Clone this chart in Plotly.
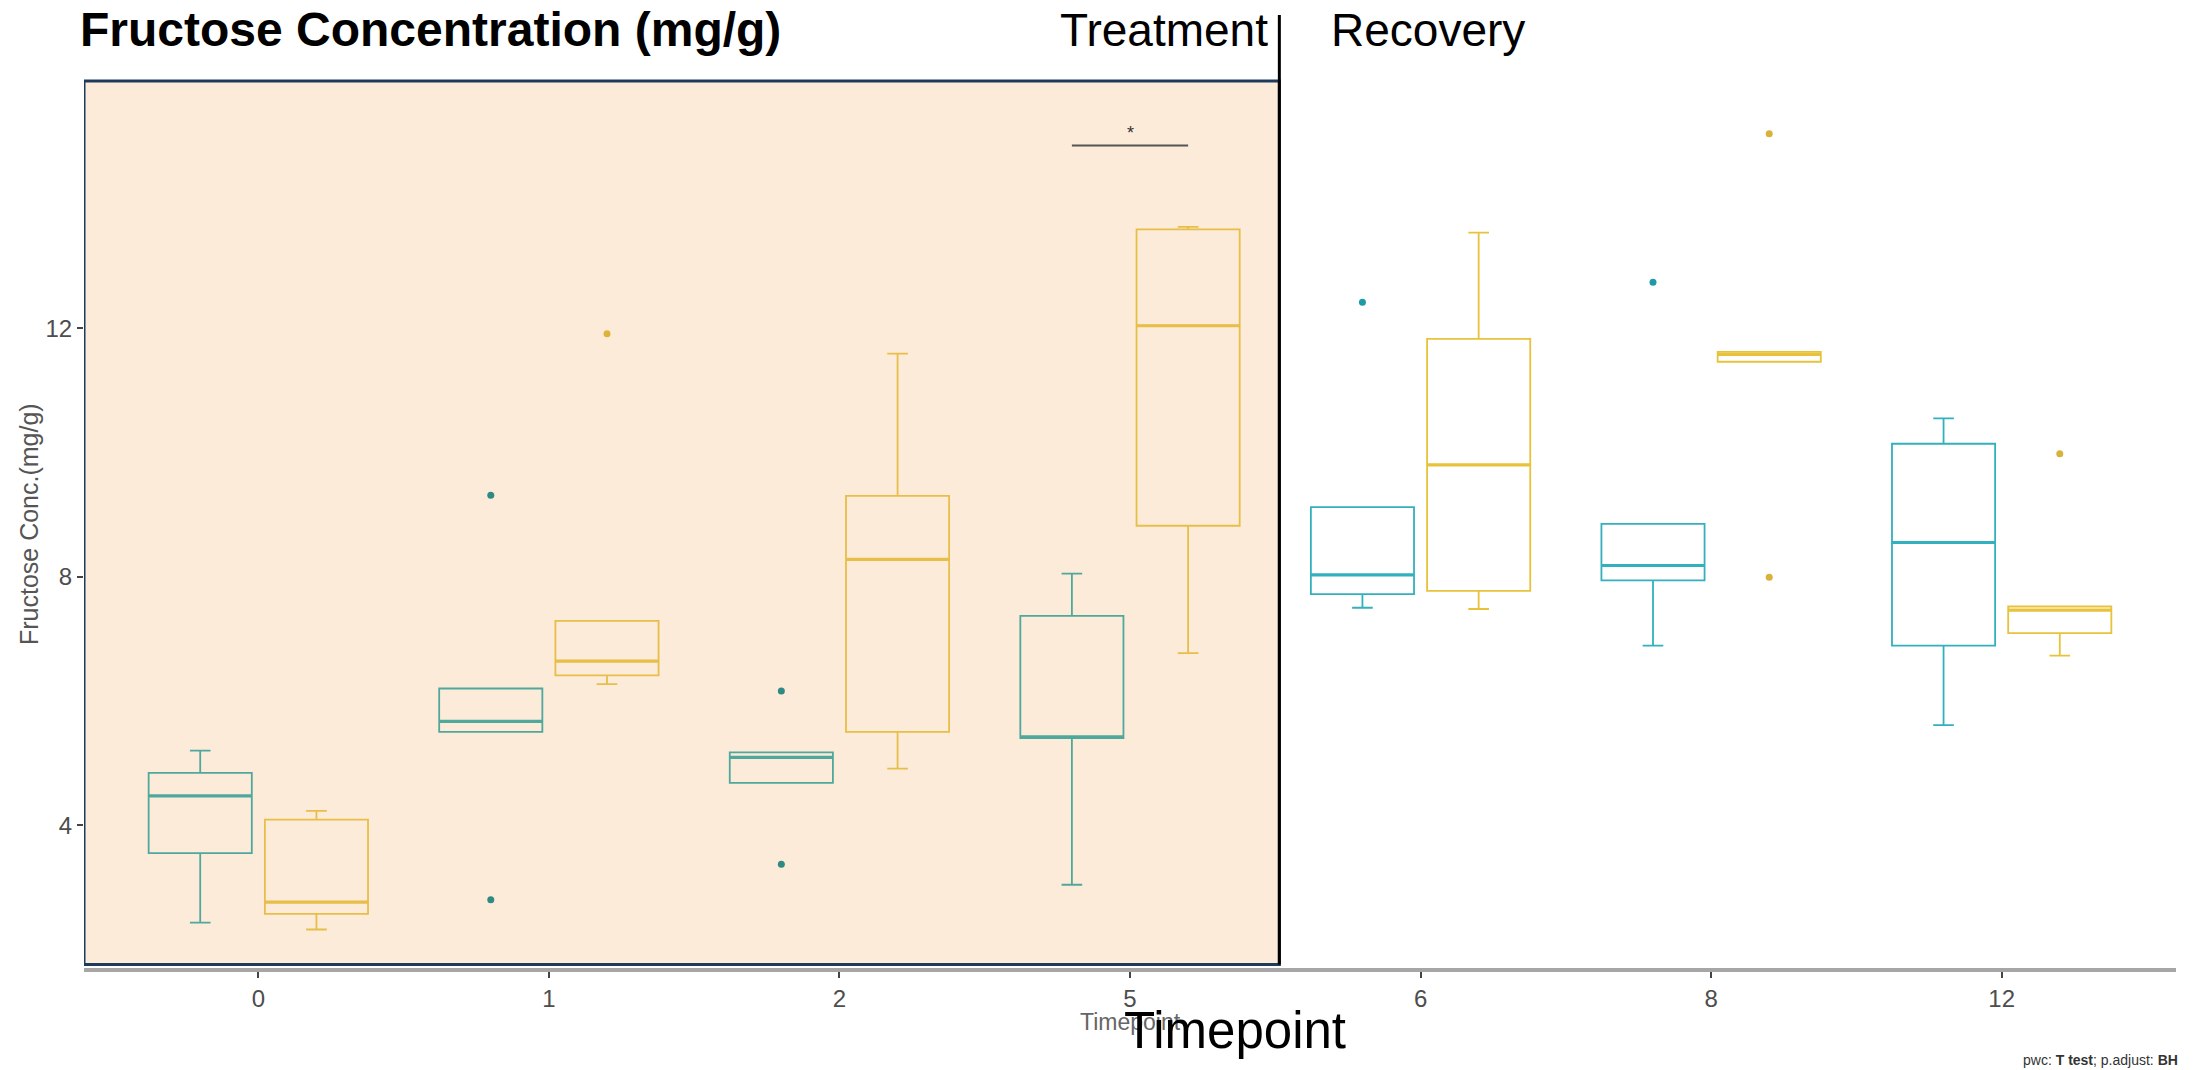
import plotly.graph_objects as go

# ---------------- data ----------------
timepoints = ["0", "1", "2", "5", "6", "8", "12"]

# group A (teal)
a_low    = [2.43, 5.50, 4.68, 3.04, 7.50, 6.89, 5.61]
a_q1     = [3.55, 5.50, 4.68, 5.40, 7.72, 7.94, 6.89]
a_median = [4.47, 5.67, 5.09, 5.42, 8.03, 8.18, 8.55]
a_q3     = [4.84, 6.20, 5.17, 7.37, 9.12, 8.85, 10.14]
a_high   = [5.20, 6.20, 5.17, 8.05, 9.12, 8.85, 10.55]
a_out_tp  = ["1", "1", "2", "2", "6", "8"]
a_out_val = [9.31, 2.80, 6.16, 3.37, 12.42, 12.74]

# group B (yellow)
b_low    = [2.32, 6.27, 4.91, 6.77, 7.48, 11.46, 6.73]
b_q1     = [2.57, 6.41, 5.50, 8.82, 7.77, 11.46, 7.09]
b_median = [2.76, 6.64, 8.28, 12.04, 9.80, 11.58, 7.46]
b_q3     = [4.09, 7.29, 9.30, 13.59, 11.83, 11.62, 7.52]
b_high   = [4.23, 7.29, 11.59, 13.63, 13.54, 11.62, 7.52]
b_out_tp  = ["1", "8", "8", "12"]
b_out_val = [11.91, 15.13, 7.99, 9.98]

# pairwise comparison annotation
sig_tp = "5"
sig_y = 14.94
sig_label = "*"

n_treatment = 4  # timepoints 0,1,2,5 belong to the treatment phase

# ---------------- styling ----------------
FONT = "Liberation Sans, Arial, sans-serif"
DODGE = 0.2
BOXW = 0.355
col_a_treat, col_a_rec = "#4FA89C", "#33B0BE"
col_b_treat, col_b_rec = "#E6BE48", "#E8C23A"
pt_a_treat, pt_a_rec = "#2F8A84", "#1E9AA6"
pt_b_treat, pt_b_rec = "#DDB437", "#D9B23A"

idx = {t: i for i, t in enumerate(timepoints)}

fig = go.Figure()


def add_boxes(low, q1, med, q3, high, sign, sl, color):
    xs = [i + sign * DODGE for i in range(len(timepoints))][sl]
    fig.add_trace(go.Box(
        x=xs, q1=q1[sl], median=med[sl], q3=q3[sl],
        lowerfence=low[sl], upperfence=high[sl],
        width=BOXW, whiskerwidth=0.2, boxpoints=False,
        line=dict(color=color, width=1.8),
        fillcolor="rgba(0,0,0,0)", showlegend=False, hoverinfo="skip"))
    # thicker median lines
    mx, my = [], []
    for x, m in zip(xs, med[sl]):
        mx += [x - BOXW / 2, x + BOXW / 2, None]
        my += [m, m, None]
    fig.add_trace(go.Scatter(x=mx, y=my, mode="lines",
                             line=dict(color=color, width=3.2),
                             showlegend=False, hoverinfo="skip"))


def add_outliers(tps, vals, sign, c_treat, c_rec):
    for phase, col in ((True, c_treat), (False, c_rec)):
        xs = [idx[t] + sign * DODGE for t in tps if (idx[t] < n_treatment) == phase]
        ys = [v for t, v in zip(tps, vals) if (idx[t] < n_treatment) == phase]
        fig.add_trace(go.Scatter(x=xs, y=ys, mode="markers",
                                 marker=dict(color=col, size=7),
                                 showlegend=False, hoverinfo="skip"))


treat = slice(0, n_treatment)
rec = slice(n_treatment, None)
add_boxes(a_low, a_q1, a_median, a_q3, a_high, -1, treat, col_a_treat)
add_boxes(a_low, a_q1, a_median, a_q3, a_high, -1, rec, col_a_rec)
add_boxes(b_low, b_q1, b_median, b_q3, b_high, +1, treat, col_b_treat)
add_boxes(b_low, b_q1, b_median, b_q3, b_high, +1, rec, col_b_rec)
add_outliers(a_out_tp, a_out_val, -1, pt_a_treat, pt_a_rec)
add_outliers(b_out_tp, b_out_val, +1, pt_b_treat, pt_b_rec)

# significance bracket
si = idx[sig_tp]
fig.add_trace(go.Scatter(x=[si - DODGE, si + DODGE], y=[sig_y, sig_y], mode="lines",
                         line=dict(color="#555555", width=2),
                         showlegend=False, hoverinfo="skip"))
fig.add_annotation(x=si, y=sig_y, text=sig_label, showarrow=False, yshift=13,
                   font=dict(family=FONT, size=18, color="#333333"))

# treatment panel background
boundary = n_treatment - 0.486
fig.add_shape(type="rect", xref="x", yref="paper", x0=-0.6, x1=boundary, y0=0.004, y1=1.0,
              fillcolor="#FDEBDA", line=dict(color="#1F3B5C", width=3), layer="below")
fig.add_shape(type="line", xref="x", yref="paper", x0=boundary, x1=boundary, y0=0.004, y1=1.0744,
              line=dict(color="#000000", width=3))

# texts
fig.add_annotation(xref="paper", yref="paper", x=-0.003, y=1.0575, xanchor="left", yanchor="middle",
                   text="<b>Fructose Concentration (mg/g)</b>", showarrow=False,
                   font=dict(family=FONT, size=48, color="#000000"))
fig.add_annotation(xref="paper", yref="paper", x=0.4656, y=1.0575, xanchor="left", yanchor="middle",
                   text="Treatment", showarrow=False,
                   font=dict(family=FONT, size=46, color="#000000"))
fig.add_annotation(xref="paper", yref="paper", x=0.5951, y=1.0575, xanchor="left", yanchor="middle",
                   text="Recovery", showarrow=False,
                   font=dict(family=FONT, size=46, color="#000000"))
fig.add_annotation(xref="paper", yref="paper", x=-0.0265, y=0.50, xanchor="center", yanchor="middle",
                   text="Fructose Conc.(mg/g)", textangle=-90, showarrow=False,
                   font=dict(family=FONT, size=25, color="#555555"))
fig.add_annotation(xref="paper", yref="paper", x=0.5, y=-0.061, xanchor="center", yanchor="middle",
                   text="Timepoint", showarrow=False,
                   font=dict(family=FONT, size=23, color="#666666"))
fig.add_annotation(xref="paper", yref="paper", x=0.5502, y=-0.0707, xanchor="center", yanchor="middle",
                   text="Timepoint", showarrow=False,
                   font=dict(family=FONT, size=51, color="#000000"))
fig.add_annotation(xref="paper", yref="paper", x=1.002, y=-0.1037, xanchor="right", yanchor="middle",
                   text="pwc: <b>T test</b>; p.adjust: <b>BH</b>", showarrow=False,
                   font=dict(family=FONT, size=14, color="#333333"))

fig.update_layout(
    width=2201, height=1070,
    margin=dict(l=84, r=25, t=81, b=102, autoexpand=False),
    paper_bgcolor="white", plot_bgcolor="white",
    boxmode="overlay",
    font=dict(family=FONT),
    xaxis=dict(range=[-0.6, len(timepoints) - 0.4], tickmode="array",
               tickvals=list(range(len(timepoints))), ticktext=timepoints,
               showgrid=False, zeroline=False, showline=True, automargin=False,
               linecolor="#A6A6A6", linewidth=4,
               ticks="outside", ticklen=6, tickwidth=1.5, tickcolor="#444444",
               tickfont=dict(family=FONT, size=24, color="#4D4D4D")),
    yaxis=dict(range=[1.70, 15.98], tickmode="array", tickvals=[4, 8, 12],
               showgrid=False, zeroline=False, showline=False, automargin=False,
               ticks="outside", ticklen=6, tickwidth=1.5, tickcolor="#444444",
               tickfont=dict(family=FONT, size=24, color="#4D4D4D")),
)

# remove the default 8px page margin so the figure fills the window exactly
fig.write_html("out.html", config={"displayModeBar": False},
               post_script="document.body.style.margin='0';document.body.style.overflow='hidden';")
